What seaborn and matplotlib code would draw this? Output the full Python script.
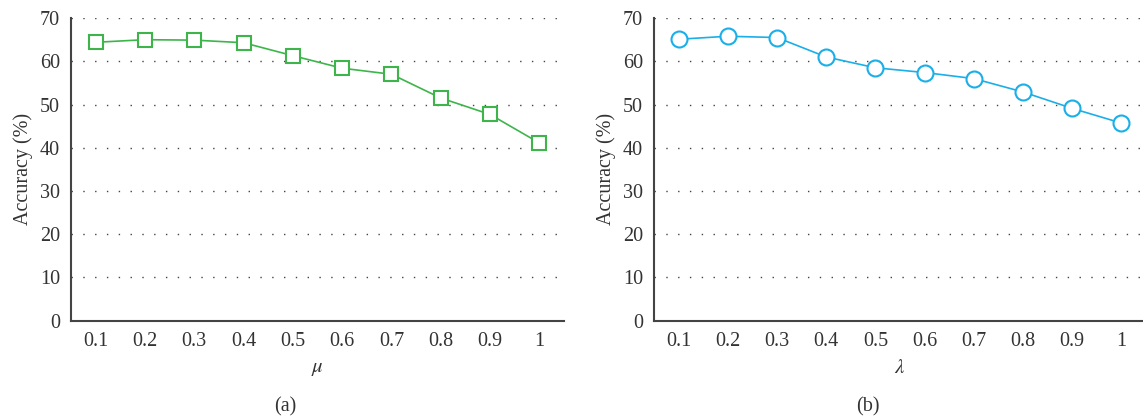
import matplotlib
matplotlib.use("Agg")
import matplotlib.pyplot as plt
import seaborn as sns
import pandas as pd

# ---- data ----
param_values = [0.1, 0.2, 0.3, 0.4, 0.5, 0.6, 0.7, 0.8, 0.9, 1.0]
tick_labels = ["0.1", "0.2", "0.3", "0.4", "0.5", "0.6", "0.7", "0.8", "0.9", "1"]
acc_mu = [64.4, 65.0, 64.9, 64.3, 61.3, 58.4, 57.0, 51.5, 47.7, 41.1]
acc_lambda = [65.1, 65.8, 65.5, 61.0, 58.5, 57.4, 56.0, 52.9, 49.1, 45.7]
y_ticks = [0, 10, 20, 30, 40, 50, 60, 70]

sns.set_theme(style="white")
plt.rcParams['font.family'] = ['Liberation Serif', 'DejaVu Serif']
plt.rcParams['mathtext.fontset'] = 'stix'

W, H = 1143, 419
fig = plt.figure(figsize=(W / 100, H / 100), dpi=100)

bottom = 1 - 320.5 / H
height = (320.5 - 18.1) / H
ax1 = fig.add_axes([71 / W, bottom, (564 - 71) / W, height])
ax2 = fig.add_axes([654 / W, bottom, (1146 - 654) / W, height])

panels = [
    (ax1, acc_mu, "#3DB54A", "s", 10.5, r"$\mu$", "(a)", 285),
    (ax2, acc_lambda, "#1AAFE8", "o", 11.5, r"$\lambda$", "(b)", 868),
]

FS = 14.5
for ax, vals, color, marker, ms, xlabel, cap, capx in panels:
    df = pd.DataFrame({"x": param_values, "y": vals})
    sns.lineplot(data=df, x="x", y="y", ax=ax, color=color, lw=1.2,
                 marker=marker, markersize=ms, markerfacecolor="white",
                 markeredgecolor=color, markeredgewidth=1.5, zorder=3)
    ax.set_xlim(0.05, 1.05)
    ax.set_ylim(0, 70)
    ax.set_xticks(param_values)
    ax.set_xticklabels(tick_labels)
    ax.set_yticks(y_ticks)
    ax.set_yticklabels([str(v) for v in y_ticks])
    ax.tick_params(axis="both", length=0, labelsize=FS, colors="#333333")
    ax.tick_params(axis="x", pad=8)
    ax.tick_params(axis="y", pad=8)
    ax.yaxis.grid(True, linestyle=(0, (1, 7.5)), color="#444444", lw=1.0)
    ax.xaxis.grid(False)
    for s in ["top", "right"]:
        ax.spines[s].set_visible(False)
    for s in ["left", "bottom"]:
        ax.spines[s].set_color("#444444")
        ax.spines[s].set_linewidth(1.5)
    ax.set_ylabel("Accuracy (%)", fontsize=FS, color="#333333", labelpad=5)
    ax.set_xlabel(xlabel, fontsize=15, color="#333333", labelpad=6)
    fig.text(capx / W, 1 - 407 / H, cap, ha="center", va="center",
             fontsize=FS, color="#333333")

fig.savefig("out.png", dpi=100)
